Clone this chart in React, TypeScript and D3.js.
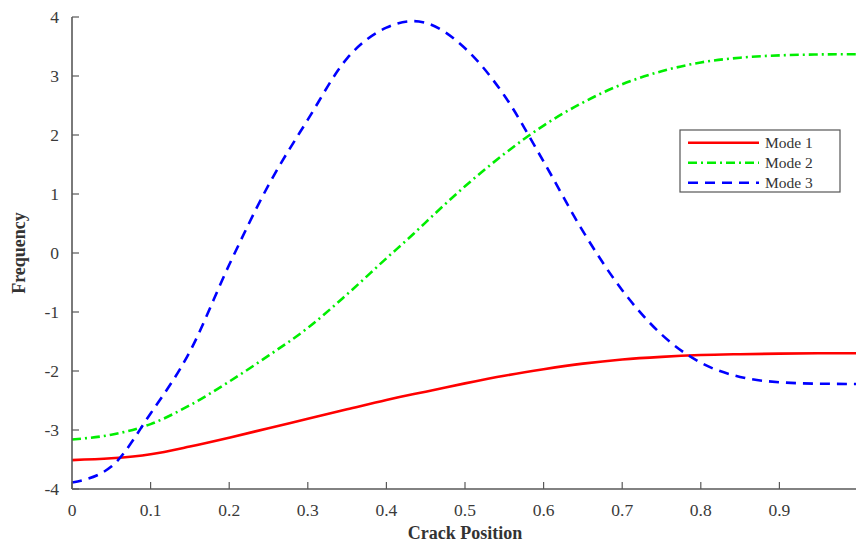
import * as d3 from 'd3';

// crack position samples (0.05 step, plus the Mode 3 peak)
const positions = [0, 0.05, 0.1, 0.15, 0.2, 0.25, 0.3, 0.35, 0.4, 0.435, 0.45, 0.5, 0.55, 0.6, 0.65, 0.7, 0.75, 0.8, 0.85, 0.9, 0.95, 1.0];

const mode1 = [-3.51, -3.48, -3.41, -3.28, -3.13, -2.97, -2.81, -2.65, -2.49, -2.39, -2.35, -2.21, -2.08, -1.97, -1.875, -1.805, -1.76, -1.73, -1.715, -1.705, -1.70, -1.70];
const mode2 = [-3.16, -3.08, -2.9, -2.58, -2.18, -1.74, -1.27, -0.7, -0.09, 0.33, 0.52, 1.13, 1.68, 2.16, 2.55, 2.86, 3.08, 3.23, 3.31, 3.35, 3.365, 3.37];
const mode3 = [-3.89, -3.62, -2.72, -1.67, -0.2, 1.15, 2.26, 3.3, 3.82, 3.93, 3.9, 3.47, 2.67, 1.55, 0.37, -0.63, -1.38, -1.86, -2.1, -2.19, -2.215, -2.22];

const xTicks = [0, 0.1, 0.2, 0.3, 0.4, 0.5, 0.6, 0.7, 0.8, 0.9];
const yTicks = [-4, -3, -2, -1, 0, 1, 2, 3, 4];

const seriesNames = ['Mode 1', 'Mode 2', 'Mode 3'];
const seriesColors = ['#ff0000', '#00ee00', '#0000ff'];
const seriesDash = ['none', '9,4,2,4', '10,7'];

export default function App() {
  const width = 856;
  const height = 545;
  const marginLeft = 72;
  const marginTop = 17;
  const plotRight = 858;
  const plotBottom = 489;

  const x = d3.scaleLinear().domain([0, 1]).range([marginLeft, plotRight]);
  const y = d3.scaleLinear().domain([-4, 4]).range([plotBottom, marginTop]);

  const series = [mode1, mode2, mode3];
  const line = d3.line<number>()
    .x((d, i) => x(positions[i]))
    .y(d => y(d))
    .curve(d3.curveMonotoneX);

  const axisColor = '#595959';
  const labelColor = '#3a3a3a';
  const font = '"Liberation Serif", "Times New Roman", serif';

  const legX = 680, legY = 130, legW = 160, legH = 62;

  return (
    <svg width={width} height={height} style={{ position: 'absolute', left: 0, top: 0, background: '#fff' }}>
      <g fill="none" strokeWidth={2.6}>
        {series.map((s, i) => (
          <path key={i} d={line(s) || ''} stroke={seriesColors[i]} strokeDasharray={seriesDash[i]} />
        ))}
      </g>
      {/* axes */}
      <line x1={marginLeft} x2={marginLeft} y1={marginTop} y2={plotBottom} stroke={axisColor} strokeWidth={1.6} />
      <line x1={marginLeft} x2={width} y1={plotBottom} y2={plotBottom} stroke={axisColor} strokeWidth={1.6} />
      {yTicks.map(t => (
        <g key={t}>
          <line x1={marginLeft} x2={marginLeft + 7} y1={y(t)} y2={y(t)} stroke={axisColor} strokeWidth={1.2} />
          <text x={marginLeft - 13} y={y(t)} dy="0.35em" textAnchor="end" fontFamily={font} fontSize={17.5} fill={labelColor}>{t}</text>
        </g>
      ))}
      {xTicks.map(t => (
        <g key={t}>
          <line x1={x(t)} x2={x(t)} y1={plotBottom} y2={plotBottom - 7} stroke={axisColor} strokeWidth={1.2} />
          <text x={x(t)} y={plotBottom + 21} dy="0.35em" textAnchor="middle" fontFamily={font} fontSize={17.5} fill={labelColor}>{t}</text>
        </g>
      ))}
      <text x={(marginLeft + plotRight) / 2} y={533} dy="0.35em" textAnchor="middle" fontFamily={font} fontSize={18} fontWeight="bold" fill="#333">Crack Position</text>
      <text transform={`translate(19,${y(0)}) rotate(-90)`} dy="0.35em" textAnchor="middle" fontFamily={font} fontSize={18} fontWeight="bold" fill="#333">Frequency</text>
      {/* legend */}
      <rect x={legX} y={legY} width={legW} height={legH} fill="#fff" stroke="#555" strokeWidth={1.2} />
      {seriesNames.map((n, i) => (
        <g key={n}>
          <line x1={legX + 8} x2={legX + 79} y1={legY + 12.7 + i * 20} y2={legY + 12.7 + i * 20} stroke={seriesColors[i]} strokeWidth={2.6} strokeDasharray={seriesDash[i]} />
          <text x={legX + 85} y={legY + 12.7 + i * 20} dy="0.35em" fontFamily={font} fontSize={15.5} fill="#333">{n}</text>
        </g>
      ))}
    </svg>
  );
}
